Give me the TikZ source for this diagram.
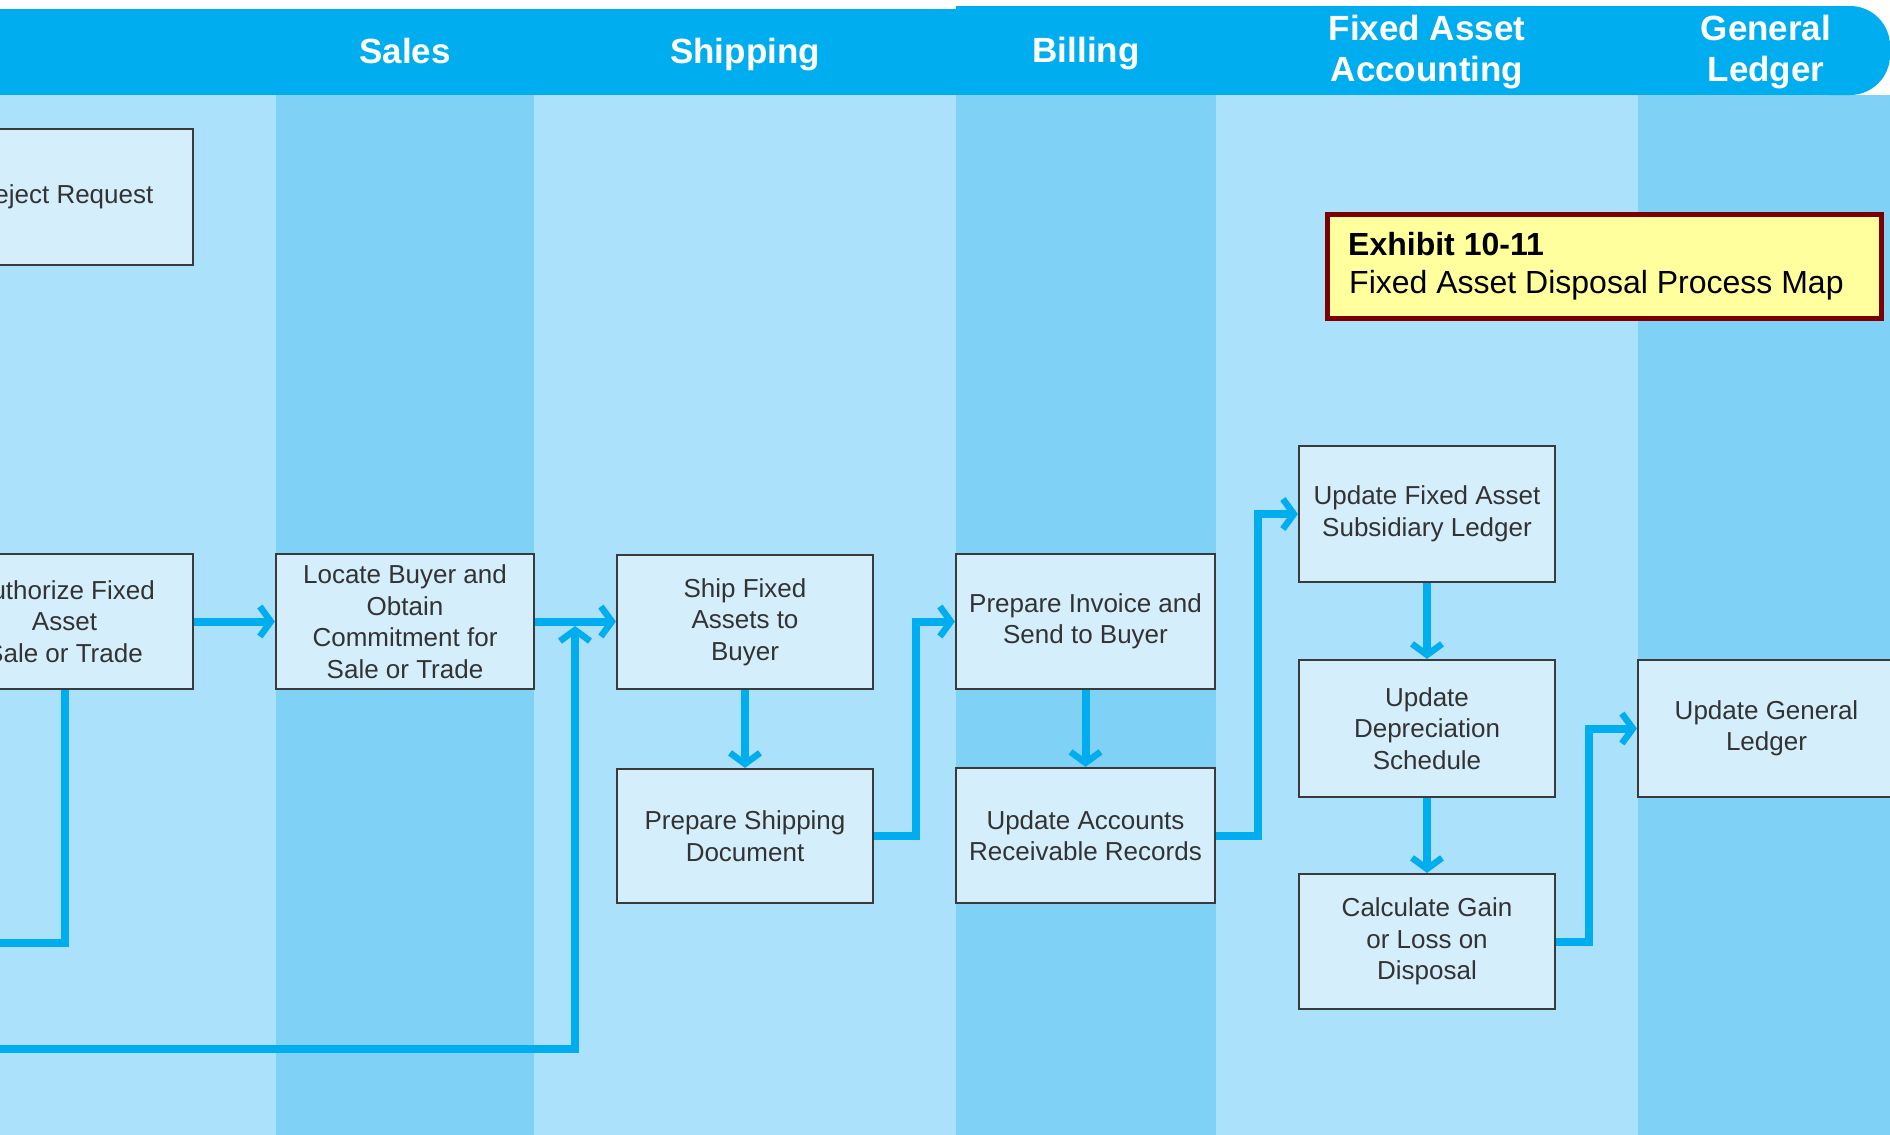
\documentclass[tikz,border=0pt]{standalone}
\usepackage{fontspec}
\setmainfont{Liberation Sans}
\usetikzlibrary{arrows.meta}
\definecolor{hdr}{HTML}{00AEEF}
\definecolor{lanelight}{HTML}{ABE1FA}
\definecolor{lanedark}{HTML}{7FD2F6}
\definecolor{boxfill}{HTML}{D4EEFB}
\definecolor{boxline}{HTML}{3A3A3A}
\definecolor{boxtext}{HTML}{333333}
\definecolor{flowc}{HTML}{00AEEF}
\definecolor{exborder}{HTML}{7B0000}
\definecolor{exfill}{HTML}{FFFF9E}
\begin{document}
\begin{tikzpicture}[x=1pt,y=-1pt,
  procbox/.style={draw=boxline, line width=2.2pt, fill=boxfill,
    minimum width=257pt, minimum height=135pt, inner sep=4pt,
    align=center, font=\fontsize{26}{31.5}\selectfont, text=boxtext},
  flow/.style={draw=flowc, line width=8pt, line join=miter},
  flowarr/.style={flow, -{Straight Barb[length=11pt,width=30pt,line width=6.5pt]}},
  lanetitle/.style={text=white, font=\bfseries\fontsize{35}{41}\selectfont, anchor=base},
  exline/.style={anchor=base west, inner sep=0pt, text=black}
]
\useasboundingbox (0,0) rectangle (1890,1135);
\clip (0,0) rectangle (1890,1135);
\fill[white] (0,0) rectangle (1890,1135);
% lanes
\fill[lanelight] (0,95) rectangle (276,1135);
\fill[lanedark] (276,95) rectangle (534,1135);
\fill[lanelight] (534,95) rectangle (956,1135);
\fill[lanedark] (956,95) rectangle (1216,1135);
\fill[lanelight] (1216,95) rectangle (1638,1135);
\fill[lanedark] (1638,95) rectangle (1890,1135);
% header band
\fill[hdr] (0,9) rectangle (960,95);
\fill[hdr] (956,6) rectangle (1850,95);
\fill[hdr, rounded corners=40pt] (1790,6) rectangle (1890,95);
\node[lanetitle] (hsales) at (405,63) {Sales};
\node[lanetitle] (hship) at (745,63) {Shipping};
\node[lanetitle] (hbill) at (1086,62) {Billing};
\node[lanetitle] (hfa1) at (1427,40) {Fixed Asset};
\node[lanetitle] (hfa2) at (1427,81) {Accounting};
\node[lanetitle] (hgl1) at (1766,40) {General};
\node[lanetitle] (hgl2) at (1766,81) {Ledger};
% process boxes
\node[procbox, minimum height=136pt] (reject) at (64.5,197) {Reject Request};
\node[procbox] (auth) at (64.5,621.5) {Authorize Fixed\\Asset\\Sale or Trade};
\node[procbox, minimum width=258pt] (locate) at (405,621.5) {Locate Buyer and\\Obtain\\Commitment for\\Sale or Trade};
\node[procbox, minimum width=256pt, minimum height=134pt] (ship) at (745,622) {Ship Fixed\\Assets to\\Buyer};
\node[procbox, minimum width=256pt, minimum height=134pt] (prepship) at (745,836) {Prepare Shipping\\Document};
\node[procbox, minimum width=259pt] (invoice) at (1085.5,621.5) {Prepare Invoice and\\Send to Buyer};
\node[procbox, minimum width=259pt] (ar) at (1085.5,835.5) {Update Accounts\\Receivable Records};
\node[procbox, minimum width=256pt, minimum height=136pt] (fasub) at (1427,514) {Update Fixed Asset\\Subsidiary Ledger};
\node[procbox, minimum width=256pt, minimum height=137pt] (dep) at (1427,728.5) {Update\\Depreciation\\Schedule};
\node[procbox, minimum width=256pt] (calc) at (1427,941.5) {Calculate Gain\\or Loss on\\Disposal};
\node[procbox, minimum height=137pt] (gl) at (1766.5,728.5) {Update General\\Ledger};
% connectors
\coordinate (authout) at (-20,943);
\coordinate (retfrom) at (-20,1049);
\coordinate (retto) at (575,626);
\draw[flow] (auth.south) |- (authout);
\draw[flowarr] (retfrom) -| (retto);
\draw[flowarr] (auth.east) -- (locate.west);
\draw[flowarr] (locate.east) -- (ship.west |- locate.east);
\draw[flowarr] (ship.south) -- (prepship.north);
\draw[flowarr] (prepship.east) -- ++(42,0) |- (invoice.west);
\draw[flowarr] (invoice.south) -- (ar.north);
\draw[flowarr] (ar.east) -- ++(42,0) |- (fasub.west);
\draw[flowarr] (fasub.south) -- (dep.north);
\draw[flowarr] (dep.south) -- (calc.north);
\draw[flowarr] (calc.east) -- ++(33,0) |- (gl.west);
% exhibit label
\node[draw=exborder, line width=5pt, fill=exfill, minimum width=554pt, minimum height=104pt] (exhibit) at (1604,266) {};
\node[exline, font=\bfseries\fontsize{32}{38}\selectfont] (exhtitle) at (1348,255) {Exhibit 10-11};
\node[exline, font=\fontsize{32}{38}\selectfont] (exhsub) at (1349,293) {Fixed Asset Disposal Process Map};
\end{tikzpicture}
\end{document}
